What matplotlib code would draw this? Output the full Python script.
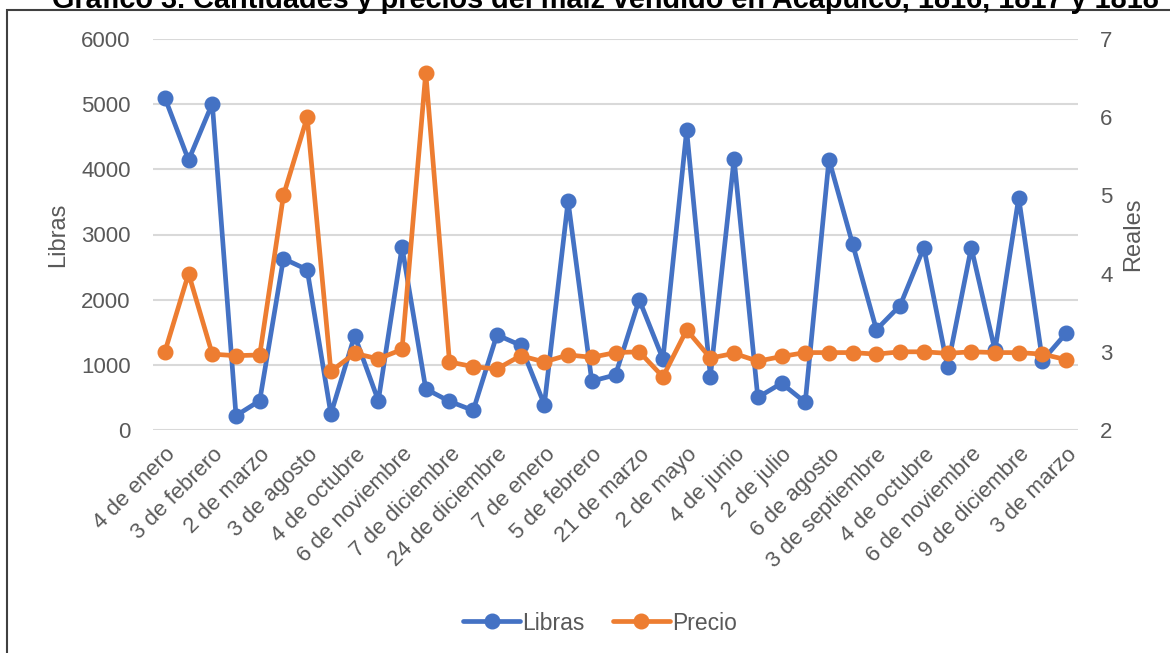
import matplotlib
matplotlib.use("Agg")
import matplotlib.pyplot as plt
from matplotlib.patches import Rectangle

plt.rcParams['font.family'] = ['Liberation Sans', 'DejaVu Sans']

title = "Gráfico 3. Cantidades y precios del maíz vendido en Acapulco, 1816, 1817 y 1818"
tick_labels = ["4 de enero", "3 de febrero", "2 de marzo", "3 de agosto", "4 de octubre",
               "6 de noviembre", "7 de diciembre", "24 de diciembre", "7 de enero",
               "5 de febrero", "21 de marzo", "2 de mayo", "4 de junio", "2 de julio",
               "6 de agosto", "3 de septiembre", "4 de octubre", "6 de noviembre",
               "9 de diciembre", "3 de marzo"]
libras = [5100, 4140, 5010, 220, 450, 2630, 2460, 245, 1450, 450,
          2810, 630, 440, 300, 1460, 1300, 390, 3515, 750, 845,
          2000, 1090, 4600, 820, 4165, 500, 717, 425, 4150, 2850,
          1540, 1910, 2800, 965, 2800, 1220, 3565, 1065, 1485]
precio = [3.0, 4.0, 2.97, 2.95, 2.96, 5.0, 6.0, 2.75, 2.98, 2.91,
          3.03, 6.57, 2.87, 2.81, 2.78, 2.95, 2.87, 2.96, 2.93, 2.99,
          3.0, 2.68, 3.28, 2.92, 2.98, 2.88, 2.94, 2.99, 2.99, 2.99,
          2.97, 3.0, 3.0, 2.98, 3.0, 2.99, 2.99, 2.97, 2.9]

BLUE = '#4472C4'
ORANGE = '#ED7D31'
TXT = '#595959'
GRID = '#D9D9D9'
FS = 16

W, H = 1170, 653
fig = plt.figure(figsize=(W / 100, H / 100), dpi=100)
fig.patch.set_facecolor('white')

x0, x1, y0, y1 = 153, 1078, 39, 430
ax = fig.add_axes([x0 / W, 1 - y1 / H, (x1 - x0) / W, (y1 - y0) / H])
ax2 = ax.twinx()

xs = list(range(len(libras)))
ax.plot(xs, libras, color=BLUE, lw=3.4, marker='o', ms=10.5, label='Libras',
        solid_capstyle='round', solid_joinstyle='round', zorder=3)
ax2.plot(xs, precio, color=ORANGE, lw=3.4, marker='o', ms=10.5, label='Precio',
         solid_capstyle='round', solid_joinstyle='round', zorder=3)

ax.set_xlim(-0.5, len(libras) - 0.5)
ax.set_ylim(0, 6000)
ax.set_yticks(range(0, 6001, 1000))
ax2.set_ylim(2, 7)
ax2.set_yticks(range(2, 8))

ax.grid(axis='y', color=GRID, lw=1.5)
ax.set_axisbelow(True)
for a in (ax, ax2):
    for s in a.spines.values():
        s.set_visible(False)
    a.tick_params(length=0, labelsize=FS, labelcolor=TXT)
ax.tick_params(axis='y', pad=16)
ax2.tick_params(axis='y', pad=16)

ax.set_xticks(xs[::2])
ax.set_xticklabels(tick_labels, rotation=45, ha='right', va='top',
                   rotation_mode='anchor', fontsize=FS, color=TXT)
ax.tick_params(axis='x', pad=10)

ax.set_ylabel('Libras', fontsize=FS + 1, color=TXT, labelpad=9)
ax2.set_ylabel('Reales', fontsize=FS + 1, color=TXT, labelpad=7)

h1, l1 = ax.get_legend_handles_labels()
h2, l2 = ax2.get_legend_handles_labels()
fig.legend(h1 + h2, l1 + l2, loc='center', bbox_to_anchor=(600 / W, 1 - 623 / H),
           ncol=2, frameon=False, fontsize=FS + 0.5, labelcolor=TXT,
           handlelength=2.5, handletextpad=0.1, columnspacing=1.2)

fig.patches.append(Rectangle((7 / W, -0.5), 2, 0.5 + 1 - 10 / H, transform=fig.transFigure,
                             fill=False, ec='#404040', lw=1.5, zorder=0))
fig.text(605 / W, 1 - 8 / H, title, ha='center', va='baseline', fontsize=20.8,
         fontweight='bold', color='black')

fig.savefig('out.png', dpi=100, facecolor='white')
